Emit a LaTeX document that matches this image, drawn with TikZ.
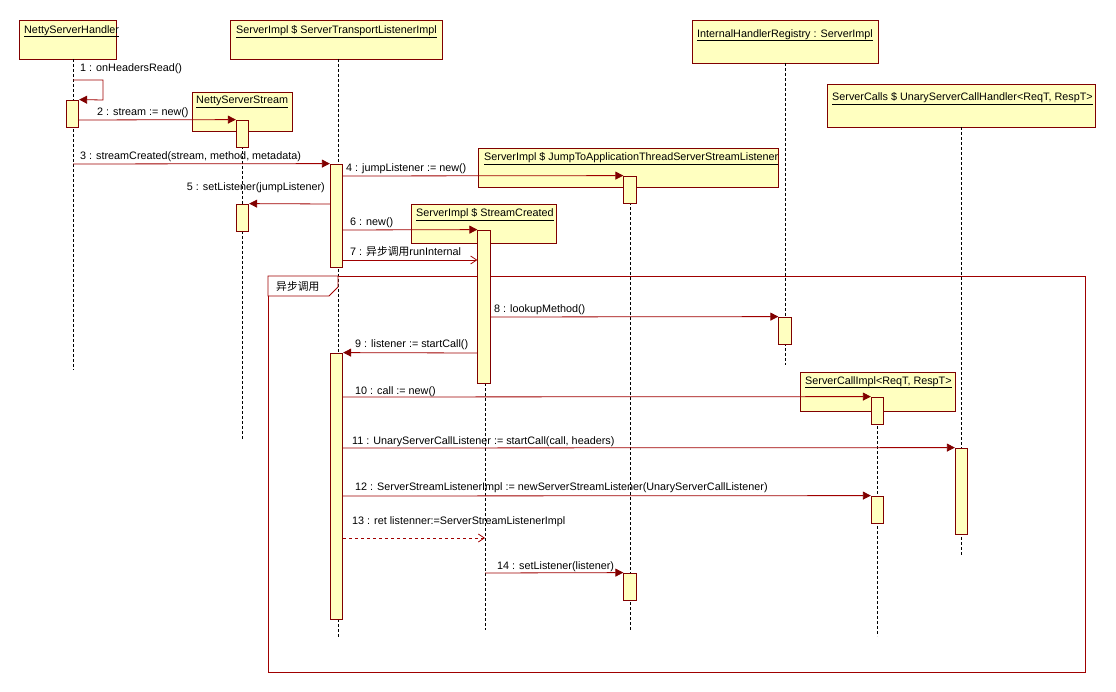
\documentclass[tikz,border=0pt]{standalone}
\usepackage{fontspec}
\setmainfont{Liberation Sans}
\newfontfamily\cjk{Noto Sans CJK SC}
\usetikzlibrary{arrows.meta}
\definecolor{ln}{HTML}{A00000}
\definecolor{dk}{HTML}{800000}
\definecolor{bx}{HTML}{FFFFC0}
\begin{document}
\begin{tikzpicture}[x=1pt,y=-1pt,font=\fontsize{10.8}{12}\selectfont,
 obj/.style={draw=dk,fill=bx,line width=0.8pt,inner sep=0},
 act/.style={draw=dk,fill=bx,line width=0.8pt,inner sep=0,minimum width=12.5pt},
 life/.style={dashed,black,line width=0.5pt,dash pattern=on 3pt off 2pt},
 msg/.style={ln,line width=0.8pt,-{Triangle[length=8pt,width=8pt,color=dk]}},
 ret/.style={ln,line width=0.8pt,-{Straight Barb[length=6pt,width=8pt]}},
 lbl/.style={anchor=base west,inner sep=0},
 ttl/.style={anchor=north west,inner sep=0}]
\useasboundingbox (0,0) rectangle (1116,692);
% object boxes
\draw[obj] (19,20) rectangle (116,59);
\node[ttl] (t1) at (24,25) {\underline{NettyServerHandler}};
\draw[obj] (230,20) rectangle (442,59);
\node[ttl] (t2) at (236,25) {\underline{ServerImpl \$ ServerTransportListenerImpl}};
\draw[obj] (692,20) rectangle (878,63);
\node[ttl] (t3) at (697,29) {\underline{InternalHandlerRegistry : ServerImpl}};
\draw[obj] (827,84) rectangle (1095,127);
\node[ttl] (t4) at (832,92) {\underline{ServerCalls \$ UnaryServerCallHandler<ReqT, RespT>}};
% lifelines
\draw[life] (73,59) -- (73,370);
\draw[life] (338,59) -- (338,638);
\draw[life] (785,63) -- (785,365);
\draw[life] (961,127) -- (961,556);
\draw[life] (242,131) -- (242,440);
\draw[life] (630,187) -- (630,630);
\draw[life] (485,243) -- (485,630);
\draw[life] (877,411) -- (877,636);
\draw[obj] (192,92) rectangle (292,131);
\node[ttl] (t5) at (196,96) {\underline{NettyServerStream}};
\draw[obj] (478,148) rectangle (778,187);
\node[ttl] (t6) at (484,152) {\underline{ServerImpl \$ JumpToApplicationThreadServerStreamListener}};
\draw[obj] (411,204) rectangle (556,243);
\node[ttl] (t7) at (416,208) {\underline{ServerImpl \$ StreamCreated}};
\draw[obj] (800,372) rectangle (955,411);
\node[ttl] (t8) at (805,376) {\underline{ServerCallImpl<ReqT, RespT>}};
% frame
\draw[ln,line width=0.8pt] (268,276) rectangle (1085,672);
\draw[ln,line width=0.8pt,fill=white] (268,276) -- (338,276) -- (338,287) -- (329,296) -- (268,296) -- cycle;
\node[anchor=base west,inner sep=0] (fr) at (276,291) {\cjk 异步调用};
% activations
\node[act,minimum height=27pt] (h1) at (72.5,113.5) {};
\node[act,minimum height=27pt] (s1) at (242.5,133.5) {};
\node[act,minimum height=103pt] (l1) at (336.5,215.5) {};
\node[act,minimum height=27pt] (j1) at (630,189.5) {};
\node[act,minimum height=27pt] (s2) at (242.5,217.5) {};
\node[act,minimum height=153pt] (c1) at (484,306.5) {};
\node[act,minimum height=27pt] (r1) at (785,330.5) {};
\node[act,minimum height=266pt] (l2) at (336.5,486) {};
\node[act,minimum height=27pt] (i1) at (877.5,410.5) {};
\node[act,minimum height=86pt] (u1) at (961.5,491) {};
\node[act,minimum height=27pt] (i2) at (877.5,509.5) {};
\node[act,minimum height=27pt] (j2) at (630,586.5) {};
% messages
\coordinate (self) at (103,80);
\draw[msg] (73,80) -- (self) -- (103,100) -- (h1.north east);
\node[lbl] (m1) at (80,72) {1 : onHeadersRead()};
\draw[msg] (h1.east |- 0,120) -- (s1.north west);
\node[lbl] (m2) at (97,116) {2 : stream := new()};
\draw[msg] (73,164) -- (l1.north west);
\node[lbl] (m3) at (80,160) {3 : streamCreated(stream, method, metadata)};
\draw[msg] (l1.east |- 0,176) -- (j1.north west);
\node[lbl] (m4) at (346,172) {4 : jumpListener := new()};
\draw[msg] (l1.west |- 0,204) -- (s2.north east);
\node[anchor=base east,inner sep=0] (m5) at (325,191) {5 : setListener(jumpListener)};
\draw[msg] (l1.east |- 0,230) -- (c1.north west);
\node[lbl] (m6) at (350,226) {6 : new()};
\draw[ret] (l1.east |- 0,260) -- (c1.west |- 0,260);
\node[lbl] (m7) at (350,256) {7 : {\cjk 异步调用}runInternal};
\draw[msg] (c1.east |- 0,317) -- (r1.north west);
\node[lbl] (m8) at (494,313) {8 : lookupMethod()};
\draw[msg] (c1.west |- 0,353) -- (l2.north east);
\node[lbl] (m9) at (355,348) {9 : listener := startCall()};
\draw[msg] (l2.east |- 0,397) -- (i1.north west);
\node[lbl] (m10) at (355,395) {10 : call := new()};
\draw[msg] (l2.east |- 0,448) -- (u1.north west);
\node[lbl] (m11) at (352,444) {11 : UnaryServerCallListener := startCall(call, headers)};
\draw[msg] (l2.east |- 0,496) -- (i2.north west);
\node[lbl] (m12) at (355,490) {12 : ServerStreamListenerImpl := newServerStreamListener(UnaryServerCallListener)};
\draw[ret,dashed] (l2.east |- 0,538) -- (485,538);
\node[lbl] (m13) at (352,524) {13 : ret listenner:=ServerStreamListenerImpl};
\draw[msg] (485,573) -- (j2.north west);
\node[lbl] (m14) at (497,569) {14 : setListener(listener)};
\end{tikzpicture}
\end{document}
